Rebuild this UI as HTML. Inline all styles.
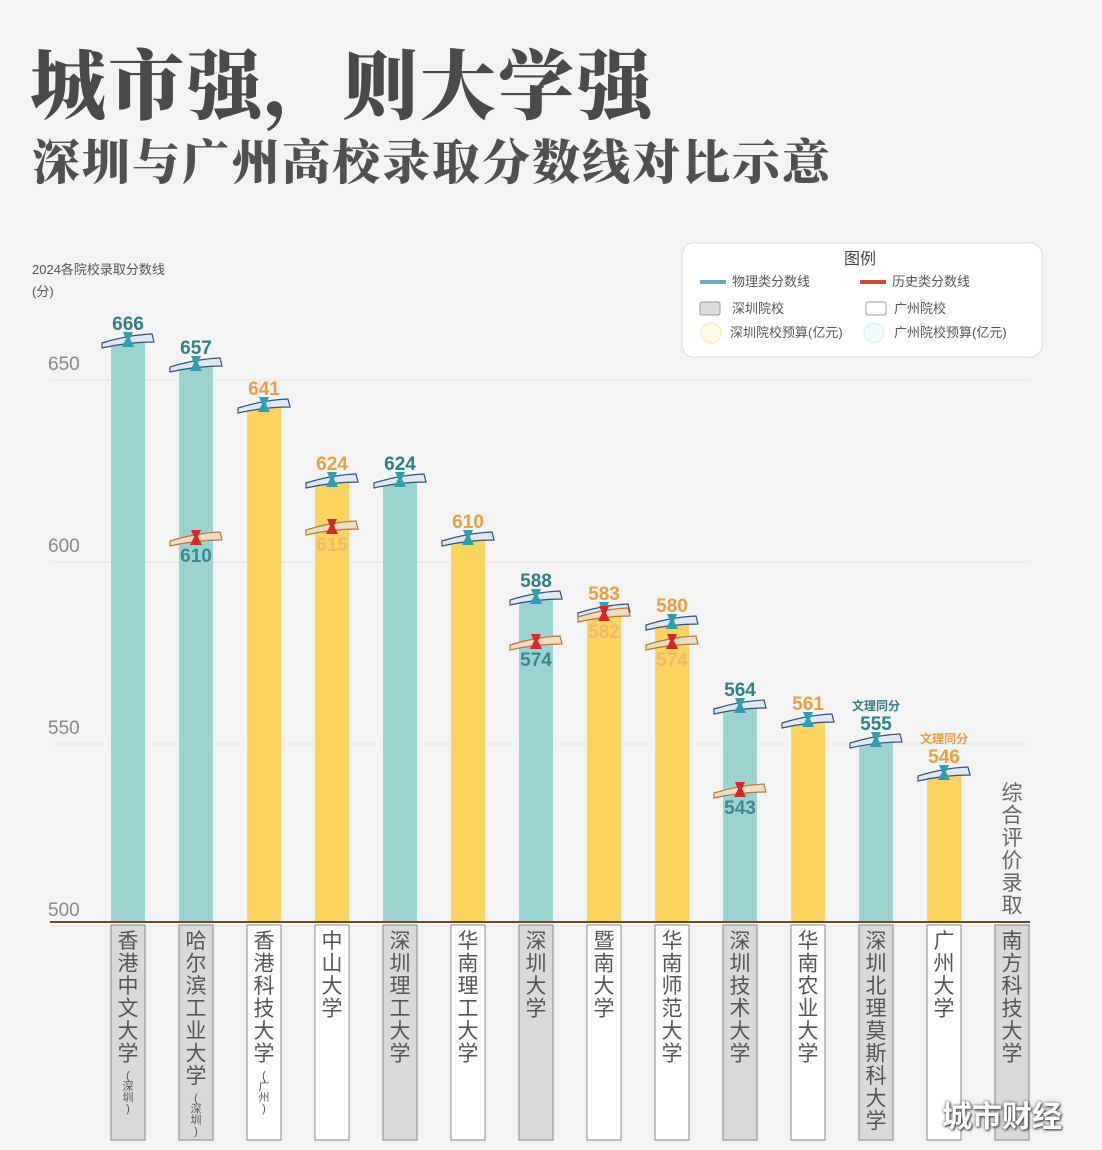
<!DOCTYPE html>
<html><head><meta charset="utf-8">
<style>
body{margin:0;background:#f3f3f3;width:1102px;height:1150px;overflow:hidden;position:relative;font-family:"Liberation Sans","Noto Sans CJK SC",sans-serif;}
.t1{position:absolute;left:30px;top:26px;font-family:"Liberation Serif","Noto Serif CJK SC",serif;font-weight:900;font-size:76px;color:#4a4a4a;letter-spacing:2px;white-space:nowrap;}
.t2{position:absolute;left:32px;top:124px;font-family:"Liberation Serif","Noto Serif CJK SC",serif;font-weight:900;font-size:48px;color:#505050;letter-spacing:2px;white-space:nowrap;}
.wm{position:absolute;left:942px;top:1092px;font-size:30px;color:#fff;text-shadow:0 0 3px #555,1px 1px 2px #333;font-weight:bold;}
</style></head><body>
<div class="t1">城市强，则大学强</div>
<div class="t2">深圳与广州高校录取分数线对比示意</div>
<svg id="chart" width="1102" height="1150" style="position:absolute;left:0;top:0" font-family="Liberation Sans, Noto Sans CJK SC, sans-serif"></svg>
<div class="wm">城市财经</div>
<script>
const schools=["香港中文大学","哈尔滨工业大学","香港科技大学","中山大学","深圳理工大学","华南理工大学","深圳大学","暨南大学","华南师范大学","深圳技术大学","华南农业大学","深圳北理莫斯科大学","广州大学","南方科技大学"];
const subs=["(深圳)","(深圳)","(广州)","","","","","","","","","","",""];
const city=["sz","sz","gz","gz","sz","gz","sz","gz","gz","sz","gz","sz","gz","sz"];
const physics=[666,657,641,624,624,610,588,583,580,564,561,555,546,null];
const history=[null,610,null,615,null,null,574,582,574,543,null,null,null,null];
const notes=["","","","","","","","","","","","文理同分","文理同分",""];
const yTicks=[650,600,550,500];
</script>
<script>
const NS="http://www.w3.org/2000/svg";
const svg=document.getElementById('chart');
function mk(tag,attrs,parent){const e=document.createElementNS(NS,tag);for(const k in attrs)e.setAttribute(k,attrs[k]);(parent||svg).appendChild(e);return e;}
const dom=[500,543,546,555,561,564,574,580,583,588,610,615,624,641,657,666];
const rng=[922,790,773,740,720,706,642,622,610,597,538,527,480,405,364,340];
function y(v){for(let i=0;i<dom.length-1;i++){if(v<=dom[i+1]){const t=(v-dom[i])/(dom[i+1]-dom[i]);return rng[i]+t*(rng[i+1]-rng[i]);}}return rng[rng.length-1];}
function tickY(v){return 363+(650-v)*3.64;}
function x(i){return 128+i*68;}
const base=922, bw=34;
let t=mk('text',{x:32,y:274,'font-size':13,fill:'#555'});t.textContent='2024各院校录取分数线';

t=mk('text',{x:32,y:296,'font-size':13,fill:'#555'});t.textContent='(分)';
yTicks.forEach(v=>{
 const g=mk('line',{x1:50,x2:1030,y1:tickY(v)+17,y2:tickY(v)+17,stroke:'#e6e6e6','stroke-width':1});
 const tl=mk('text',{x:48,y:tickY(v)+7,'font-size':19,fill:'#888'});tl.textContent=v;
 
});
const lg=mk('g',{});

mk('rect',{x:682,y:243,width:360,height:114,rx:12,fill:'#fff',stroke:'#ddd'},lg);
let lt=mk('text',{x:860,y:264,'font-size':16,fill:'#444','text-anchor':'middle'},lg);lt.textContent='图例';
const li=[[700,285,'物理类分数线','#6fa8c8'],[860,285,'历史类分数线','#c94a3a']];
li.forEach(a=>{mk('rect',{x:a[0],y:a[1]-5,width:26,height:4,fill:a[3]},lg);const e=mk('text',{x:a[0]+32,y:a[1]+1,'font-size':13,fill:'#555'},lg);e.textContent=a[2];});
mk('rect',{x:700,y:302,width:20,height:13,fill:'#ddd',stroke:'#999',rx:2},lg);
lt=mk('text',{x:732,y:313,'font-size':13,fill:'#555'},lg);lt.textContent='深圳院校';
mk('rect',{x:866,y:302,width:20,height:13,fill:'#fff',stroke:'#999',rx:2},lg);
lt=mk('text',{x:894,y:313,'font-size':13,fill:'#555'},lg);lt.textContent='广州院校';
mk('circle',{cx:711,cy:333,r:10,fill:'#fffbea',stroke:'#f7e7a8'},lg);
lt=mk('text',{x:730,y:337,'font-size':13,fill:'#555'},lg);lt.textContent='深圳院校预算(亿元)';
mk('circle',{cx:874,cy:333,r:10,fill:'#f0fafa',stroke:'#d4efee'},lg);
lt=mk('text',{x:894,y:337,'font-size':13,fill:'#555'},lg);lt.textContent='广州院校预算(亿元)';
function scroll(cx,cy,kind){
 const g=mk('g',{});
 
 
 const fill=kind==='p'?'#dfe8f2':'#f0dcc0', edge=kind==='p'?'#34527a':'#b07a40';
 mk('path',{d:`M${cx-26} ${cy+3} Q${cx} ${cy-5} ${cx+24} ${cy-6} L${cx+26} ${cy+2} Q${cx} ${cy+2} ${cx-26} ${cy+8} Z`,fill:fill,stroke:edge,'stroke-width':1.2},g);
 const c=kind==='p'?'#2aa0b0':'#d42a2a';
 mk('path',{d:`M${cx-5} ${cy-8} L${cx+5} ${cy-8} L${cx+2} ${cy-1} L${cx+6} ${cy+7} L${cx-6} ${cy+7} L${cx-2} ${cy-1} Z`,fill:c},g);
}
schools.forEach((s,i)=>{
 const cx=x(i), sz=city[i]==='sz';
 const lb=mk('rect',{x:cx-17,y:925,width:34,height:215,fill:sz?'#d9d9d9':'#fff',stroke:'#888','stroke-width':1});
 
 const name=mk('text',{x:cx,y:948,'font-size':21,fill:'#555','text-anchor':'middle'});
 
 [...s].forEach((ch,k)=>{const ts=mk('tspan',{x:cx,y:948+k*22.5},name);ts.textContent=ch;});
 if(subs[i]){const st=mk('text',{x:cx,y:948+s.length*22.5,'font-size':11,fill:'#555','text-anchor':'middle'});
  [...subs[i]].forEach((ch,k)=>{const ts=mk('tspan',{x:cx,y:948+s.length*22.5-4+k*11},st);ts.textContent=ch;});}
 if(physics[i]==null)return;
 const top=y(physics[i]);
 const b=mk('rect',{x:cx-bw/2,y:top,width:bw,height:base-top,fill:sz?'#9bd3d0':'#fad45e'});
 
 scroll(cx,top,'p');
 const col=sz?'#2e7f86':'#eb9f3e';
 const pl=mk('text',{x:cx,y:top-10,'font-size':19,'font-weight':'bold',fill:col,'text-anchor':'middle'});pl.textContent=physics[i];
 
 if(notes[i]){const n=mk('text',{x:cx,y:top-30,'font-size':12,'font-weight':'bold',fill:col,'text-anchor':'middle'});n.textContent=notes[i];}
 if(history[i]!=null){const hy=y(history[i]);scroll(cx,hy,'h');
  const hl=mk('text',{x:cx,y:hy+24,'font-size':19,'font-weight':'bold',fill:sz?'#3a8b90':'#f0b86a','text-anchor':'middle'});hl.textContent=history[i];
  }
});
const cn=mk('text',{x:1012,y:800,'font-size':21,fill:'#666','text-anchor':'middle'});

[..."综合评价录取"].forEach((ch,k)=>{const ts=mk('tspan',{x:1012,y:800+k*22.5},cn);ts.textContent=ch;});
const ax=mk('line',{x1:50,x2:1030,y1:922,y2:922,stroke:'#6b4a2a','stroke-width':2});

</script>
</body></html>
